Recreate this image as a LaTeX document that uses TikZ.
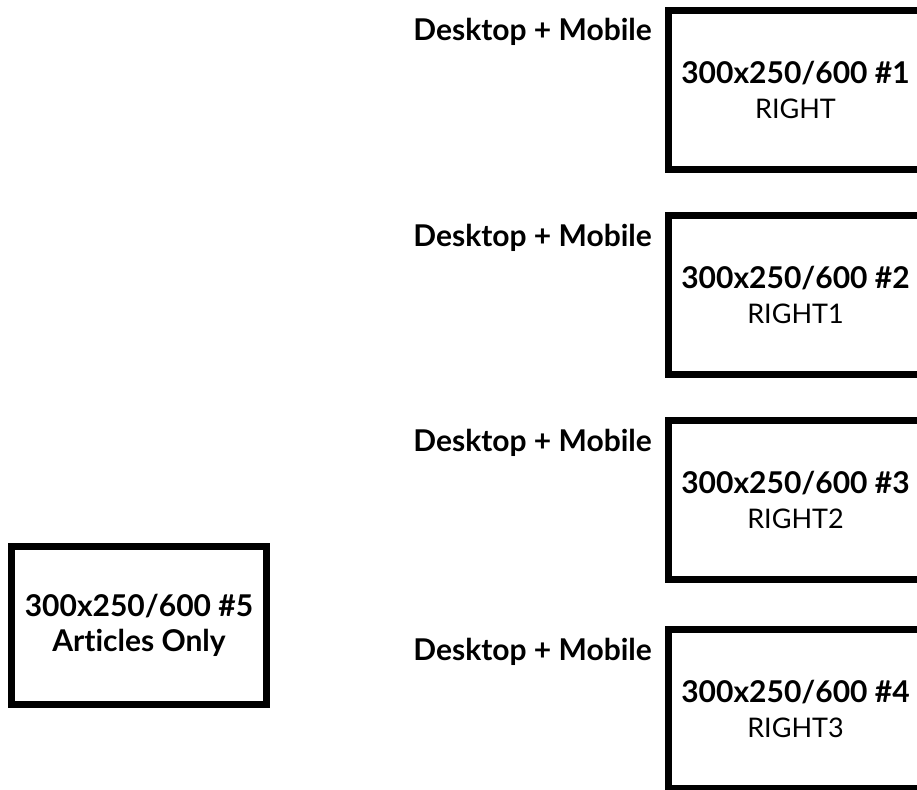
\documentclass[tikz,border=0pt]{standalone}
\usepackage{fontspec}
\setmainfont{Lato}[Ligatures={NoCommon}]
\usepackage{tikz}
\usetikzlibrary{positioning, calc}

\newcommand{\slotname}{\fontsize{27}{35}\selectfont\mdseries}

\begin{document}
\begin{tikzpicture}[
  x=1pt, y=-1pt,
  adbox/.style={draw, line width=7pt, rectangle, inner sep=0pt, align=center, minimum width=254pt, minimum height=159pt,
    font=\fontsize{30}{35}\selectfont\bfseries},
  devlbl/.style={anchor=base east, inner sep=0pt, font=\fontsize{30}{35}\selectfont\bfseries}
]
  \useasboundingbox (0,0) rectangle (917,789);
  \clip (0,0) rectangle (917,789);

  \node[adbox] (right0) at (795.5, 90) {300x250/600 \#1\\ {\slotname RIGHT}};
  \node[adbox] (right1) at (795.5, 295) {300x250/600 \#2\\ {\slotname RIGHT1}};
  \node[adbox] (right2) at (795.5, 500) {300x250/600 \#3\\ {\slotname RIGHT2}};
  \node[adbox] (right3) at (795.5, 709) {300x250/600 \#4\\ {\slotname RIGHT3}};

  \node[devlbl] (dev0) at ([xshift=-13pt, yshift=-34pt]right0.north west) {Desktop + Mobile};
  \node[devlbl] (dev1) at ([xshift=-13pt, yshift=-34pt]right1.north west) {Desktop + Mobile};
  \node[devlbl] (dev2) at ([xshift=-13pt, yshift=-34pt]right2.north west) {Desktop + Mobile};
  \node[devlbl] (dev3) at ([xshift=-13pt, yshift=-34pt]right3.north west) {Desktop + Mobile};

  \node[adbox, minimum width=255pt, minimum height=158pt] (articles) at (139, 625.5) {300x250/600 \#5\\ Articles Only};
\end{tikzpicture}
\end{document}
